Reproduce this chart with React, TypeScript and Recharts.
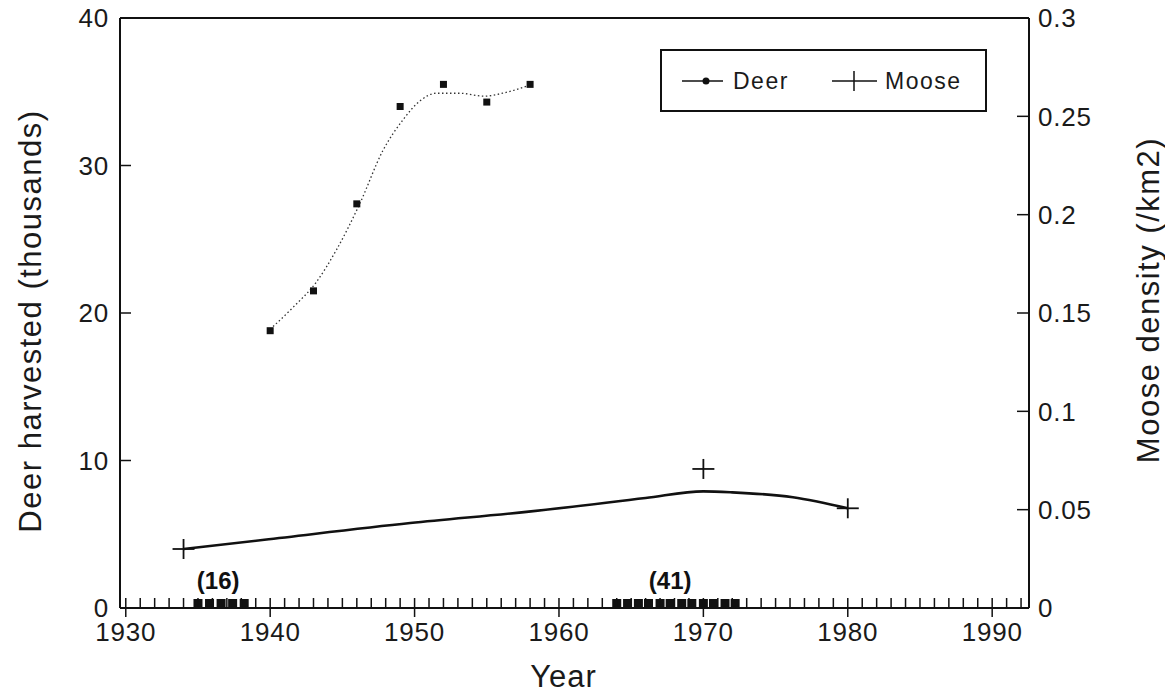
import { ComposedChart, Line, XAxis, YAxis, Legend, ReferenceLine } from 'recharts'

// deer harvest, thousands (square markers)
const deerYears = [1940, 1943, 1946, 1949, 1952, 1955, 1958]
const deerHarvest = [18.8, 21.5, 27.4, 34.0, 35.5, 34.3, 35.5]

// smoothed deer curve (dotted)
const deerFitYears = [1940, 1941.6, 1943.2, 1944.6, 1946.2, 1947.8, 1949.2, 1950.4, 1951.5, 1953.1, 1954.8, 1956.1, 1958.1]
const deerFit = [18.9, 20.4, 22.1, 24.3, 27.4, 31.0, 33.1, 34.4, 34.9, 34.9, 34.7, 34.9, 35.5]

// moose density /km2 (cross markers)
const mooseYears = [1934, 1970, 1980]
const mooseDensity = [0.03, 0.0707, 0.0507]

// smoothed moose curve (solid)
const mooseFitYears = [1934, 1939.6, 1949.7, 1957.9, 1966, 1970, 1972, 1976.2, 1980]
const mooseFit = [0.03, 0.0347, 0.0432, 0.049, 0.0559, 0.0593, 0.0588, 0.0563, 0.0507]

// filled marks along the year axis
const markYears = [
  1935, 1935.8, 1936.6, 1937.4, 1938.2,
  1964, 1964.75, 1965.5, 1966.2, 1967, 1967.7, 1968.5, 1969.2, 1970, 1970.7, 1971.5, 1972.2,
]
const markLabels = ['(16)', '(41)']
const markLabelYears = [1936.4, 1967.7]

const decadeTicks = [1930, 1940, 1950, 1960, 1970, 1980, 1990]
const deerTicks = [0, 10, 20, 30, 40]
const mooseTicks = [0, 0.05, 0.1, 0.15, 0.2, 0.25, 0.3]
const mooseTickLabels = ['0', '0.05', '0.1', '0.15', '0.2', '0.25', '0.3']

const yearTicks: number[] = []
for (let y = 1930; y <= 1992; y++) yearTicks.push(y)

const deerPts = deerYears.map((year, i) => ({ year, v: deerHarvest[i] }))
const deerFitPts = deerFitYears.map((year, i) => ({ year, v: deerFit[i] }))
const moosePts = mooseYears.map((year, i) => ({ year, v: mooseDensity[i] }))
const mooseFitPts = mooseFitYears.map((year, i) => ({ year, v: mooseFit[i] }))
const markPts = markYears.map((year) => ({ year, v: 0 }))
const labelPts = markLabelYears.map((year, i) => ({ year, v: 0, label: markLabels[i] }))

const FONT = "'Liberation Sans', Arial, Helvetica, sans-serif"
const INK = '#111'
const TEXT = '#1a1a1a'

function YearTick({ x, y, payload }: any) {
  const yr = payload.value
  const major = decadeTicks.includes(yr)
  return (
    <g>
      <line x1={x} x2={x} y1={y - 10} y2={major ? y + 9 : y} stroke={INK} strokeWidth={1.5} />
      {major && (
        <text x={x} y={y + 33} textAnchor="middle" fontSize={26} letterSpacing={0.8} fontFamily={FONT} fill={TEXT}>
          {yr}
        </text>
      )}
    </g>
  )
}

function DeerTick({ x, y, payload }: any) {
  return (
    <g>
      <line x1={x} x2={x + 11} y1={y} y2={y} stroke={INK} strokeWidth={1.5} />
      <text x={x - 11} y={y} dy="0.36em" textAnchor="end" fontSize={26} letterSpacing={0.8} fontFamily={FONT} fill={TEXT}>
        {payload.value}
      </text>
    </g>
  )
}

function MooseTick({ x, y, payload, index }: any) {
  return (
    <g>
      <line x1={x - 12} x2={x} y1={y} y2={y} stroke={INK} strokeWidth={1.5} />
      <text x={x + 9} y={y} dy="0.36em" textAnchor="start" fontSize={26} letterSpacing={0.8} fontFamily={FONT} fill={TEXT}>
        {mooseTickLabels[index] ?? payload.value}
      </text>
    </g>
  )
}

const leftTitle = (props: any) => {
  const vb = props.viewBox
  const x = vb.x + 30
  const y = vb.y + vb.height / 2 + 8
  return (
    <text x={x} y={y} transform={`rotate(-90, ${x}, ${y})`} textAnchor="middle" dominantBaseline="central"
      fontSize={31} letterSpacing={1.5} fontFamily={FONT} fill={TEXT}>
      Deer harvested (thousands)
    </text>
  )
}

const rightTitle = (props: any) => {
  const vb = props.viewBox
  const x = vb.x + 119
  const y = vb.y + vb.height / 2 - 13
  return (
    <text x={x} y={y} transform={`rotate(-90, ${x}, ${y})`} textAnchor="middle" dominantBaseline="central"
      fontSize={31} letterSpacing={1.5} fontFamily={FONT} fill={TEXT}>
      Moose density (/km2)
    </text>
  )
}

const bottomTitle = (props: any) => {
  const vb = props.viewBox
  return (
    <text x={vb.x + vb.width / 2 - 11} y={vb.y + 79} textAnchor="middle" fontSize={31} letterSpacing={1}
      fontFamily={FONT} fill={TEXT}>
      Year
    </text>
  )
}

function LegendBox() {
  return (
    <div style={{ width: 327, height: 63, border: `2px solid ${INK}`, boxSizing: 'border-box', background: '#fff' }}>
      <svg width={323} height={59} style={{ display: 'block' }}>
        <line x1={20} x2={61} y1={30} y2={30} stroke={INK} strokeWidth={1.5} />
        <circle cx={44} cy={30} r={3.5} fill={INK} />
        <text x={71} y={38} fontSize={23} letterSpacing={1.5} fontFamily={FONT} fill={TEXT}>Deer</text>
        <line x1={170} x2={215} y1={30} y2={30} stroke={INK} strokeWidth={1.5} />
        <line x1={192} x2={192} y1={20} y2={40} stroke={INK} strokeWidth={1.5} />
        <text x={223} y={38} fontSize={23} letterSpacing={1.5} fontFamily={FONT} fill={TEXT}>Moose</text>
      </svg>
    </div>
  )
}

export default function App() {
  return (
    <div style={{ width: 1165, height: 695, background: '#fff', fontFamily: FONT }}>
      <style>{'body{margin:0}'}</style>
      <ComposedChart width={1165} height={695} margin={{ top: 18, right: 0, bottom: 0, left: 0 }}>
        <XAxis
          dataKey="year"
          type="number"
          domain={[1929.6, 1992.55]}
          allowDataOverflow
          ticks={yearTicks}
          interval={0}
          tick={<YearTick />}
          tickSize={0}
          tickMargin={0}
          tickLine={false}
          axisLine={{ stroke: INK, strokeWidth: 2 }}
          height={87}
          label={bottomTitle}
        />
        <YAxis
          yAxisId="deer"
          orientation="left"
          domain={[0, 40]}
          ticks={deerTicks}
          interval={0}
          tick={<DeerTick />}
          tickSize={0}
          tickMargin={0}
          tickLine={false}
          axisLine={{ stroke: INK, strokeWidth: 2 }}
          width={120}
          label={leftTitle}
        />
        <YAxis
          yAxisId="moose"
          orientation="right"
          domain={[0, 0.3]}
          ticks={mooseTicks}
          interval={0}
          tick={<MooseTick />}
          tickSize={0}
          tickMargin={0}
          tickLine={false}
          axisLine={{ stroke: INK, strokeWidth: 2 }}
          width={136}
          label={rightTitle}
        />
        <ReferenceLine yAxisId="deer" y={40} stroke={INK} strokeWidth={2} />
        <Legend
          layout="horizontal"
          verticalAlign="middle"
          align="center"
          wrapperStyle={{ left: 660, top: 49, width: 327, height: 63 }}
          content={<LegendBox />}
        />
        <Line
          data={deerFitPts}
          dataKey="v"
          yAxisId="deer"
          type="monotone"
          stroke="#333"
          strokeWidth={1.3}
          strokeDasharray="1.5 2.5"
          dot={false}
          activeDot={false}
          legendType="none"
          isAnimationActive={false}
        />
        <Line
          data={deerPts}
          dataKey="v"
          yAxisId="deer"
          stroke="none"
          legendType="none"
          activeDot={false}
          dot={(p: any) => <rect key={`d${p.index}`} x={p.cx - 3.5} y={p.cy - 3.5} width={7} height={7} fill={INK} />}
          isAnimationActive={false}
        />
        <Line
          data={mooseFitPts}
          dataKey="v"
          yAxisId="moose"
          type="monotone"
          stroke={INK}
          strokeWidth={2.6}
          dot={false}
          activeDot={false}
          legendType="none"
          isAnimationActive={false}
        />
        <Line
          data={moosePts}
          dataKey="v"
          yAxisId="moose"
          stroke="none"
          legendType="none"
          activeDot={false}
          dot={(p: any) => (
            <g key={`m${p.index}`}>
              <line x1={p.cx - 11} x2={p.cx + 11} y1={p.cy} y2={p.cy} stroke={INK} strokeWidth={1.8} />
              <line x1={p.cx} x2={p.cx} y1={p.cy - 10} y2={p.cy + 10} stroke={INK} strokeWidth={1.8} />
            </g>
          )}
          isAnimationActive={false}
        />
        <Line
          data={markPts}
          dataKey="v"
          yAxisId="deer"
          stroke="none"
          legendType="none"
          activeDot={false}
          dot={(p: any) => <rect key={`k${p.index}`} x={p.cx - 4.5} y={p.cy - 9} width={9} height={9} fill={INK} />}
          isAnimationActive={false}
        />
        <Line
          data={labelPts}
          dataKey="v"
          yAxisId="deer"
          stroke="none"
          legendType="none"
          activeDot={false}
          dot={(p: any) => (
            <text key={`l${p.index}`} x={p.cx} y={p.cy - 19} textAnchor="middle" fontSize={24} fontWeight={700}
              fontFamily={FONT} fill={INK}>
              {p.payload.label}
            </text>
          )}
          isAnimationActive={false}
        />
      </ComposedChart>
    </div>
  )
}
